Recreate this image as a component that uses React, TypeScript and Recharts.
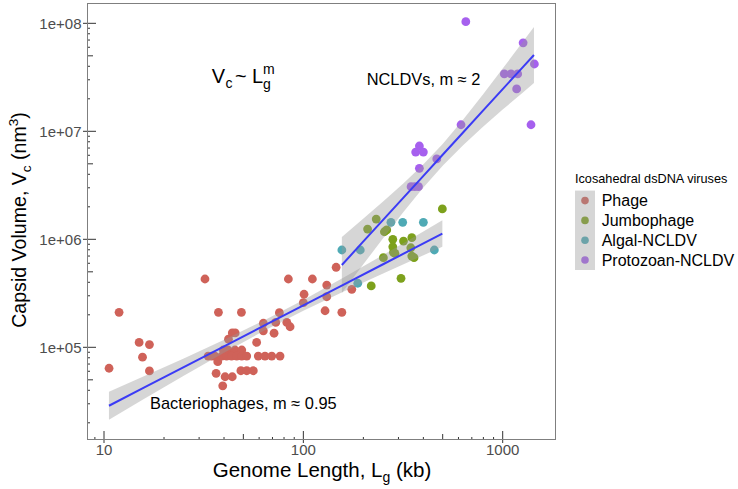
import React from 'react';
import { ComposedChart, Scatter, Area, Line, XAxis, YAxis } from 'recharts';

const W = 738;
const H = 489;
const FONT = '"Liberation Sans", Arial, Helvetica, sans-serif';

// plot frame (pixels)
const PL = 87;
const PR = 556;
const PT = 3;
const PB = 440;

const categories = ['Phage', 'Jumbophage', 'Algal-NCLDV', 'Protozoan-NCLDV'];
const colors = ['#CF6259', '#7DA11C', '#4FAAB5', '#A660EE'];

// Genome length (kb) and capsid volume (nm^3)
const phageL = [10.6, 11.9, 15.0, 15.6, 16.9, 16.9, 32.1, 37.5, 48.9, 44.0, 45.5, 42.1, 33.3, 34.7, 36.0, 37.2, 39.7, 41.9, 45.4, 49.1, 39.0, 41.2, 43.6, 46.3, 49.1, 52.0, 59.4, 64.2, 69.4, 76.4, 58.3, 63.0, 63.0, 71.3, 72.7, 75.8, 82.6, 85.8, 84.1, 36.5, 40.5, 44.0, 48.6, 52.0, 56.1, 39.4, 100.8, 100, 111, 128.5, 131, 131, 146, 156, 175];
const phageV = [64000, 211000, 111000, 81000, 106000, 60400, 429000, 211000, 211000, 136000, 136000, 119000, 83000, 83000, 83000, 73600, 94400, 94400, 94400, 94400, 83000, 83000, 83000, 83000, 83000, 83000, 83000, 83000, 83000, 83000, 111000, 167000, 142000, 135000, 170000, 209000, 170000, 155000, 429000, 57400, 53400, 53400, 60700, 60700, 60700, 44000, 310000, 259000, 429000, 218000, 377000, 294000, 551000, 211000, 344000];

const jumboL = [498, 232, 210, 255, 262, 281, 318, 350, 281, 283, 288, 346, 252, 350, 359, 309, 219];
const jumboV = [1910000, 1540000, 1245000, 1175000, 1220000, 1000000, 964000, 1036000, 853000, 758000, 742000, 835000, 676000, 700000, 676000, 435000, 370000];

const algalL = [275, 315, 400, 156, 193, 454, 187.5];
const algalV = [1435000, 1435000, 1435000, 796000, 796000, 796000, 392000];

const protoL = [653, 1266, 1442, 1019, 1101, 1189, 1175, 1387, 618, 382, 366, 400, 467, 382, 347, 362, 378];
const protoV = [103500000, 66000000, 42000000, 34000000, 34000000, 34000000, 24700000, 11500000, 11500000, 7310000, 6430000, 6430000, 5550000, 4540000, 3070000, 3070000, 3070000];

// fitted power laws with confidence bands
const phageFitL = [10.59, 15.85, 25.12, 39.81, 63.1, 100, 158.5, 251.2, 398.1, 498];
const phageFitLo = [21330, 33190, 54450, 88510, 141300, 217800, 326600, 483100, 707900, 851100];
const phageFitHi = [38820, 53830, 78700, 116700, 176200, 274200, 440600, 714500, 1175000, 1500000];
const phageFitV = [28770, 42270, 65460, 101600, 157800, 244300, 379300, 587500, 912000, 1130000];

const ncldvFitL = [156.0, 199.5, 251.2, 316.2, 398.1, 501.2, 631.0, 794.3, 1000, 1259, 1435];
const ncldvFitLo = [317700, 583400, 1023000, 1774000, 2992000, 4831000, 7396000, 10940000, 15890000, 22800000, 27990000];
const ncldvFitHi = [1052000, 1549000, 2239000, 3273000, 4898000, 7691000, 12740000, 21830000, 38100000, 66990000, 92680000];
const ncldvFitV = [578100, 950600, 1514000, 2410000, 3828000, 6095000, 9705000, 15450000, 24600000, 39080000, 50930000];

const xDomain = [8.216, 1851];
const yDomain = [13860, 154200000];

const xTicks = [9, 10, 20, 30, 40, 50, 60, 70, 80, 90, 100, 200, 300, 400, 500, 600, 700, 800, 900, 1000];
const xTickLabels: Record<number, string> = { 10: '10', 100: '100', 1000: '1000' };
const yTicks = [
  20000, 30000, 40000, 50000, 60000, 70000, 80000, 90000, 100000,
  200000, 300000, 400000, 500000, 600000, 700000, 800000, 900000, 1000000,
  2000000, 3000000, 4000000, 5000000, 6000000, 7000000, 8000000, 9000000, 10000000,
  20000000, 30000000, 40000000, 50000000, 60000000, 70000000, 80000000, 90000000, 100000000,
];
const yTickLabels: Record<number, string> = { 100000: '1e+05', 1000000: '1e+06', 10000000: '1e+07', 100000000: '1e+08' };

const pts = (xs: number[], ys: number[]) => xs.map((x, i) => ({ x, y: ys[i] }));
const band = (xs: number[], lo: number[], hi: number[], fit: number[]) =>
  xs.map((x, i) => ({ x, band: [lo[i], hi[i]], fit: fit[i] }));

const seriesData = [pts(phageL, phageV), pts(jumboL, jumboV), pts(algalL, algalV), pts(protoL, protoV)];
const phageBand = band(phageFitL, phageFitLo, phageFitHi, phageFitV);
const ncldvBand = band(ncldvFitL, ncldvFitLo, ncldvFitHi, ncldvFitV);

const mant = (v: number) => Math.round(v / Math.pow(10, Math.floor(Math.log10(v) + 1e-9)));

const XTick = (props: any) => {
  const { x, payload } = props;
  const v = payload.value;
  const m = mant(v);
  const len = m === 1 ? 9 : m === 5 ? 6 : 3;
  return (
    <g>
      <line x1={x} x2={x} y1={PB - len} y2={m === 1 ? PB + 3 : PB} stroke="#333" strokeWidth={1} />
      {xTickLabels[v] && (
        <text x={x} y={454.5} textAnchor="middle" fontSize={15} fill="#4d4d4d" fontFamily={FONT}>
          {xTickLabels[v]}
        </text>
      )}
    </g>
  );
};

const YTick = (props: any) => {
  const { y, payload } = props;
  const v = payload.value;
  const m = mant(v);
  const len = m === 1 ? 9 : m === 5 ? 6 : 3;
  return (
    <g>
      <line x1={m === 1 ? PL - 4 : PL} x2={PL + len} y1={y} y2={y} stroke="#333" strokeWidth={1} />
      {yTickLabels[v] && (
        <text x={81.5} y={y + 5.2} textAnchor="end" fontSize={15} fill="#4d4d4d" fontFamily={FONT}>
          {yTickLabels[v]}
        </text>
      )}
    </g>
  );
};

export default function App() {
  return (
    <div style={{ position: 'absolute', left: 0, top: 0, width: W, height: H, background: '#fff' }}>
      <ComposedChart width={W} height={H} margin={{ top: PT, right: W - PR, bottom: 0, left: 0 }}>
        <XAxis
          type="number"
          dataKey="x"
          scale="log"
          domain={xDomain}
          allowDataOverflow
          ticks={xTicks}
          interval={0}
          tick={<XTick />}
          tickLine={false}
          axisLine={false}
          height={H - PB}
        />
        <YAxis
          type="number"
          dataKey="y"
          scale="log"
          domain={yDomain}
          allowDataOverflow
          ticks={yTicks}
          interval={0}
          tick={<YTick />}
          tickLine={false}
          axisLine={false}
          width={PL}
        />
        {seriesData.map((d, i) => (
          <Scatter
            key={categories[i]}
            name={categories[i]}
            data={d}
            isAnimationActive={false}
            zIndex={100}
            shape={(p: any) => <circle cx={p.cx} cy={p.cy} r={4.4} fill={colors[i]} />}
          />
        ))}
        <Area data={phageBand} dataKey="band" stroke="none" fill="#999999" fillOpacity={0.4} isAnimationActive={false} zIndex={200} />
        <Area data={ncldvBand} dataKey="band" stroke="none" fill="#999999" fillOpacity={0.4} isAnimationActive={false} zIndex={200} />
        <Line data={phageBand} dataKey="fit" stroke="#3B3BF5" strokeWidth={2} dot={false} isAnimationActive={false} zIndex={300} />
        <Line data={ncldvBand} dataKey="fit" stroke="#3B3BF5" strokeWidth={2} dot={false} isAnimationActive={false} zIndex={300} />
      </ComposedChart>
      <svg width={W} height={H} style={{ position: 'absolute', left: 0, top: 0, pointerEvents: 'none' }} fontFamily={FONT}>
        <rect x={PL + 0.5} y={PT + 0.5} width={PR - PL - 1} height={PB - PT - 1} fill="none" stroke="#7f7f7f" strokeWidth={1} />
        {/* axis titles */}
        <text x={322} y={476.5} textAnchor="middle" fontSize={20.5} fill="#000">
          Genome Length, L<tspan dy={5} fontSize={14}>g</tspan><tspan dy={-5}> (kb)</tspan>
        </text>
        <text transform="translate(25.5,220) rotate(-90)" textAnchor="middle" fontSize={19.6} fill="#000">
          Capsid Volume, V<tspan dy={5} fontSize={13.5}>c</tspan><tspan dy={-5}> (nm</tspan><tspan dy={-8} fontSize={13.5}>3</tspan><tspan dy={8}>)</tspan>
        </text>
        {/* annotations */}
        <text x={211.7} y={83.3} fontSize={20}>V</text>
        <text x={225.5} y={88} fontSize={14}>c</text>
        <text x={235} y={83.3} fontSize={20}>~</text>
        <text x={252} y={83.3} fontSize={20}>L</text>
        <text x={263} y={88.5} fontSize={14}>g</text>
        <text x={263} y={74} fontSize={14}>m</text>
        <text x={366.7} y={85} fontSize={16.4}>NCLDVs, m ≈ 2</text>
        <text x={150} y={409} fontSize={16.4}>Bacteriophages, m ≈ 0.95</text>
        {/* legend */}
        <text x={575} y={183} fontSize={12.7} fill="#000">Icosahedral dsDNA viruses</text>
        {categories.map((c, i) => (
          <circle key={c} cx={585} cy={200.6 + i * 19.8} r={3.8} fill={colors[i]} />
        ))}
        <rect x={575} y={190.6} width={20} height={79.4} fill="#999999" fillOpacity={0.4} />
        {categories.map((c, i) => (
          <text key={c} x={601.7} y={200.6 + i * 19.8 + 5.7} fontSize={16} fill="#000">{c}</text>
        ))}
      </svg>
    </div>
  );
}
